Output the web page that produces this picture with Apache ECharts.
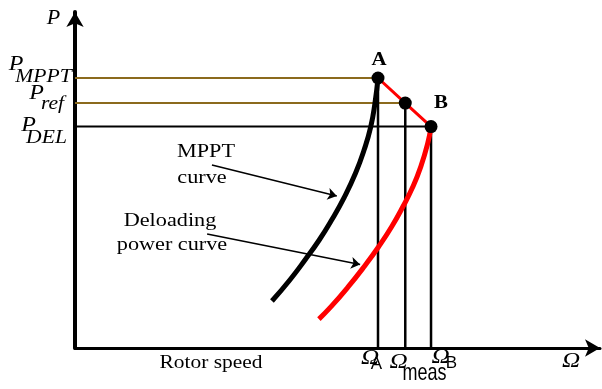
<!DOCTYPE html>
<html>
<head>
<meta charset="utf-8">
<script src="https://cdn.jsdelivr.net/npm/echarts@6/dist/echarts.min.js"></script>
<style>
  html, body { margin: 0; padding: 0; background: #fff; }
  #chart { width: 602px; height: 389px; }
</style>
</head>
<body>
<div id="chart"></div>
<script>
// Operating points (per-unit rotor speed, per-unit power)
const pointA    = [1.0, 1.0];     // MPPT operating point
const pointRef  = [1.09, 0.907];  // reference point at measured speed
const pointB    = [1.175, 0.82];  // deloaded operating point

// MPPT power curve, P versus rotor speed
const mpptCurve = [
  [0.650, 0.174], [0.709, 0.252], [0.759, 0.326], [0.806, 0.400],
  [0.847, 0.474], [0.889, 0.559], [0.926, 0.648], [0.954, 0.733],
  [0.976, 0.819], [0.990, 0.907], [1.0, 1.0]
];

// Deloading power curve
const deloadCurve = [
  [0.805, 0.107], [0.845, 0.153], [0.902, 0.227], [0.954, 0.301],
  [1.002, 0.375], [1.045, 0.449], [1.082, 0.523], [1.115, 0.597],
  [1.141, 0.671], [1.164, 0.758], [1.175, 0.82]
];

// Annotation arrows: [from, to]
const mpptArrow   = [[0.452, 0.678], [0.864, 0.563]];
const deloadArrow = [[0.436, 0.422], [0.941, 0.309]];

const OLIVE = '#8b6a1d';
const RED = '#ff0000';
const SERIF = '"Liberation Serif", "Times New Roman", serif';
const SANS = '"Liberation Sans", Arial, sans-serif';

function guide(pts, color, width) {
  return {
    type: 'line', data: pts, showSymbol: false, silent: true,
    lineStyle: { color: color, width: width }, z: 2
  };
}

function txt(text, x, y, opts) {
  opts = opts || {};
  return {
    type: 'text', x: x, y: y,
    scaleX: opts.sx || 1.2, scaleY: opts.sy || 1,
    style: {
      text: text,
      fontFamily: opts.family || SERIF,
      fontSize: opts.size || 18,
      fontStyle: opts.italic ? 'italic' : 'normal',
      fontWeight: opts.bold ? 'bold' : 'normal',
      fill: '#000',
      align: 'center',
      verticalAlign: 'middle'
    },
    z: 10
  };
}

const chart = echarts.init(document.getElementById('chart'));

function axisLine(width) {
  return {
    show: true,
    onZero: false,
    symbol: ['none', 'arrow'],
    symbolSize: [13, 15],
    lineStyle: { color: '#000', width: width }
  };
}

const axisCommon = {
  type: 'value',
  axisTick: { show: false },
  axisLabel: { show: false },
  splitLine: { show: false }
};

chart.setOption({
  animation: false,
  grid: { left: 75, top: 12, width: 525, height: 336 },
  xAxis: Object.assign({}, axisCommon, { min: 0, max: 525 / 303, axisLine: axisLine(3) }),
  yAxis: Object.assign({}, axisCommon, { min: 0, max: 336 / 270, axisLine: axisLine(4) }),
  series: [
    // horizontal power levels
    guide([[0, pointA[1]], pointA], OLIVE, 2),
    guide([[0, pointRef[1]], pointRef], OLIVE, 2),
    guide([[0, pointB[1]], pointB], '#000', 2),
    // vertical speed markers
    guide([[pointA[0], 0], pointA], '#000', 2.5),
    guide([[pointRef[0], 0], pointRef], '#000', 2.5),
    guide([[pointB[0], 0], pointB], '#000', 2.5),
    // curves
    {
      type: 'line', name: 'MPPT curve', data: mpptCurve, smooth: 0.5,
      showSymbol: false, lineStyle: { color: '#000', width: 5 }, z: 3
    },
    {
      type: 'line', name: 'Deloading power curve', data: deloadCurve, smooth: 0.5,
      showSymbol: false, lineStyle: { color: RED, width: 5 }, z: 3
    },
    // path from A through reference point to B
    {
      type: 'line', data: [pointA, pointRef, pointB], showSymbol: false,
      lineStyle: { color: RED, width: 3 }, z: 4,
      markLine: {
        silent: true, symbol: ['none', 'arrow'], symbolSize: 9,
        label: { show: false },
        lineStyle: { color: '#000', width: 1.5, type: 'solid' },
        data: [
          [{ coord: mpptArrow[0] }, { coord: mpptArrow[1] }],
          [{ coord: deloadArrow[0] }, { coord: deloadArrow[1] }]
        ]
      }
    },
    // operating point markers
    {
      type: 'scatter', data: [pointA, pointRef, pointB], symbolSize: 13,
      itemStyle: { color: '#000', opacity: 1 }, z: 5
    }
  ],
  graphic: [
    txt('P', 53.5, 18.5, { italic: true, size: 20, sx: 1.1 }),
    txt('\u03A9', 571, 361, { italic: true, size: 21, sx: 1.2 }),
    txt('P', 16, 65, { italic: true, size: 20 }),
    txt('MPPT', 43.5, 77, { italic: true }),
    txt('P', 36.5, 94, { italic: true, size: 20 }),
    txt('ref', 52.5, 104.5, { italic: true }),
    txt('P', 28.5, 126, { italic: true, size: 20 }),
    txt('DEL', 46.5, 138.5, { italic: true }),
    txt('A', 379, 60, { bold: true, size: 19, sx: 1.1 }),
    txt('B', 441, 103, { bold: true, size: 19, sx: 1.1 }),
    txt('MPPT', 206, 152, { size: 19, sx: 1.17 }),
    txt('curve', 202, 178, { size: 19, sx: 1.17 }),
    txt('Deloading', 170, 221, { size: 19, sx: 1.17 }),
    txt('power curve', 172, 245, { size: 19, sx: 1.17 }),
    txt('Rotor speed', 211, 363, { size: 18, sx: 1.19 }),
    txt('\u03A9', 370, 358, { italic: true, size: 21, sx: 1.2 }),
    txt('A', 376.5, 364, { family: SANS, size: 17, sx: 1 }),
    txt('\u03A9', 398.5, 362.5, { italic: true, size: 21, sx: 1.2 }),
    txt('meas', 424.5, 373.5, { family: SANS, size: 18, sx: 1, sy: 1.3 }),
    txt('\u03A9', 440.5, 357, { italic: true, size: 21, sx: 1.2 }),
    txt('B', 451.5, 363.5, { family: SANS, size: 17, sx: 1 })
  ]
});
</script>
</body>
</html>
